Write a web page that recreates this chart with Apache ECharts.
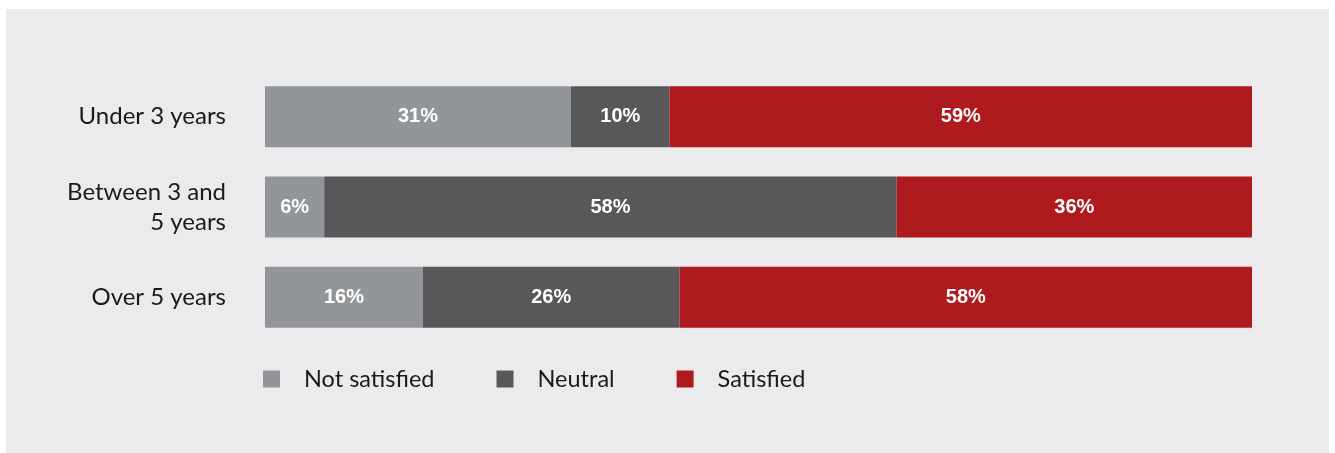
<!DOCTYPE html>
<html>
<head>
<meta charset="utf-8">
<script src="https://cdn.jsdelivr.net/npm/echarts@6/dist/echarts.min.js"></script>
<style>
  html, body { margin: 0; padding: 0; background: #fff; }
  #chart { width: 1335px; height: 453px; }
</style>
</head>
<body>
<div id="chart"></div>
<script>
const categories = ["Under 3 years", "Between 3 and\n5 years", "Over 5 years"];
const seriesNames = ["Not satisfied", "Neutral", "Satisfied"];
const notSatisfied = [31, 6, 16];
const neutral = [10, 58, 26];
const satisfied = [59, 36, 58];
const colors = ["#939699", "#58585a", "#ae1a1d"];

const chart = echarts.init(document.getElementById("chart"));

const makeSeries = (name, values, color) => ({
  name: name,
  type: "bar",
  stack: "total",
  barWidth: 61,
  data: values,
  itemStyle: { color: color },
  label: {
    show: true,
    position: "inside",
    formatter: "{c}%",
    color: "#fff",
    fontFamily: "Liberation Sans, Arial, sans-serif",
    fontWeight: "bold",
    fontSize: 20
  },
  emphasis: { disabled: true }
});

const option = {
  backgroundColor: "#fff",
  animation: false,
  graphic: [
    {
      type: "rect",
      z: -10,
      shape: { x: 6, y: 9, width: 1323, height: 444 },
      style: { fill: "#ebebed" }
    }
  ],
  grid: { left: 265, right: 83, top: 71.5, bottom: 110.5 },
  xAxis: {
    type: "value",
    min: 0,
    max: 100,
    show: false
  },
  yAxis: {
    type: "category",
    data: categories,
    inverse: true,
    axisLine: { show: false },
    axisTick: { show: false },
    axisLabel: {
      margin: 39,
      color: "#1a1a1a",
      fontFamily: "Lato, sans-serif",
      fontSize: 24,
      lineHeight: 30,
      align: "right"
    }
  },
  legend: {
    left: 258,
    top: 362,
    itemWidth: 17,
    itemHeight: 17,
    itemGap: 62,
    icon: "rect",
    selectedMode: false,
    textStyle: {
      color: "#1a1a1a",
      fontFamily: "Lato, sans-serif",
      fontSize: 23.5,
      padding: [0, 0, 0, 19]
    },
    data: seriesNames
  },
  series: [
    makeSeries(seriesNames[0], notSatisfied, colors[0]),
    makeSeries(seriesNames[1], neutral, colors[1]),
    makeSeries(seriesNames[2], satisfied, colors[2])
  ]
};

chart.setOption(option);
</script>
</body>
</html>
